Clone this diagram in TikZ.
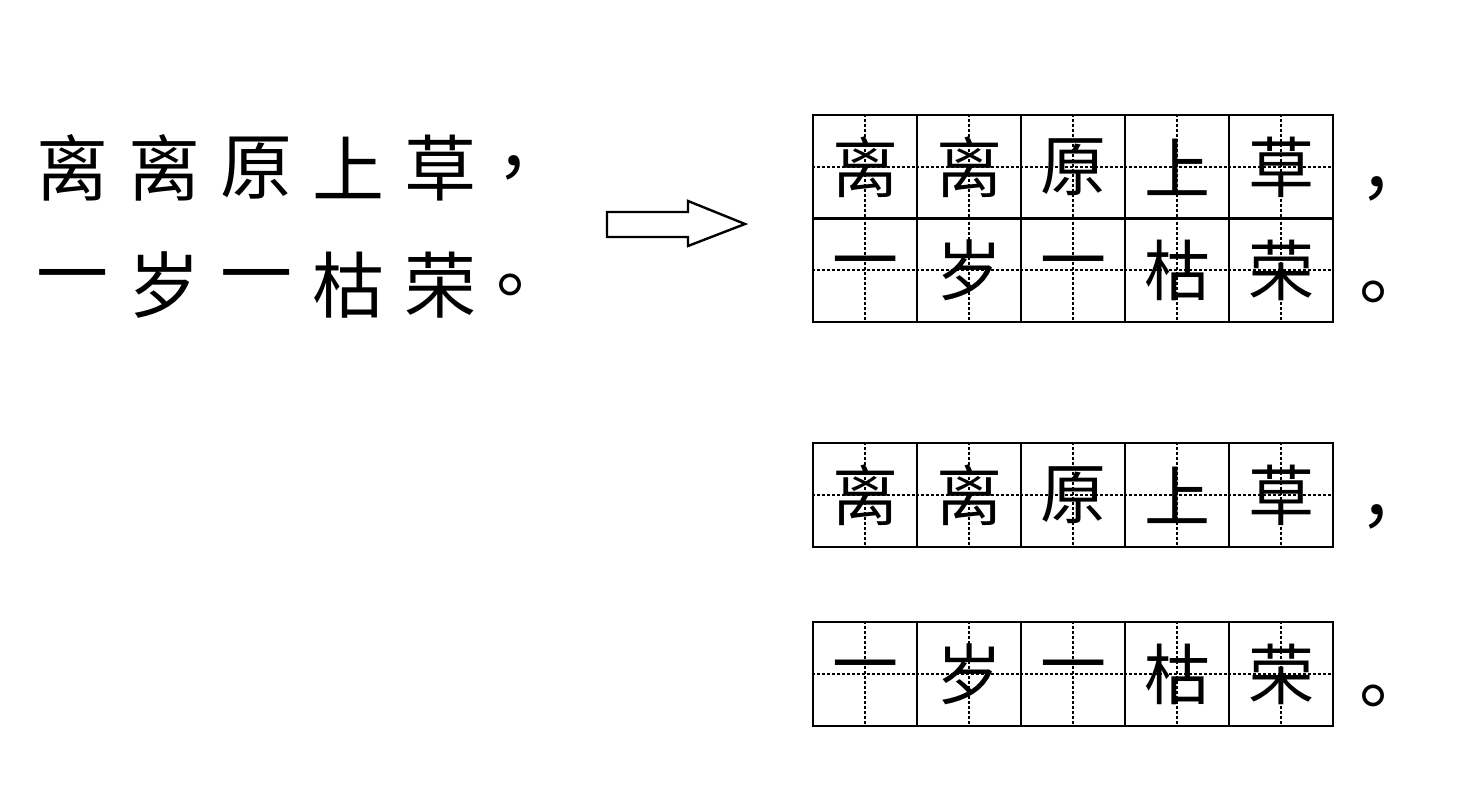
\documentclass[tikz,border=0pt]{standalone}
\usepackage{fontspec}
\newfontfamily\cjk{Noto Sans CJK SC}
\usetikzlibrary{calc}

\begin{document}
\begin{tikzpicture}
      [x=1pt,y=-1pt
      ,box/.style={draw,line width=2.4,minimum size=104,inner sep=0,font=\cjk\fontsize{66}{66}\selectfont}
      ,mid/.style={densely dashed,line width=1.2}
      ,txt/.style={font=\cjk\fontsize{72}{72}\selectfont,inner sep=0}]
        \useasboundingbox (0,0) rectangle (1478,799);
        % left text
        \foreach \c [count=\i] in {离,离,原,上,草,，}{
          \node[txt] (a\i) at (-20+92*\i,168) {\c};
        }
        \foreach \c [count=\i] in {一,岁,一,枯,荣,。}{
          \node[txt] (b\i) at (-20+92*\i,285) {\c};
        }
        % arrow
        \draw[line width=2.4] (607,212) -- (688,212) -- (688,201) -- (745,224)
                     -- (688,246) -- (688,237) -- (607,237) -- cycle;
        % grids
        \foreach \y/\t/\p/\n in {167/{离,离,原,上,草}/，/p,270/{一,岁,一,枯,荣}/。/q,
                                 495/{离,离,原,上,草}/，/r,674/{一,岁,一,枯,荣}/。/s}{
          \foreach \c [count=\i] in \t {
            \node[box] (\n\i) at (761+104*\i,\y) {\c};
            \draw[mid] (\n\i.north) -- (\n\i.south);
            \draw[mid] (\n\i.west) -- (\n\i.east);
          }
          \node[txt] (\n p) at (1395,\y+22) {\p};
        }
\end{tikzpicture}
\end{document}
